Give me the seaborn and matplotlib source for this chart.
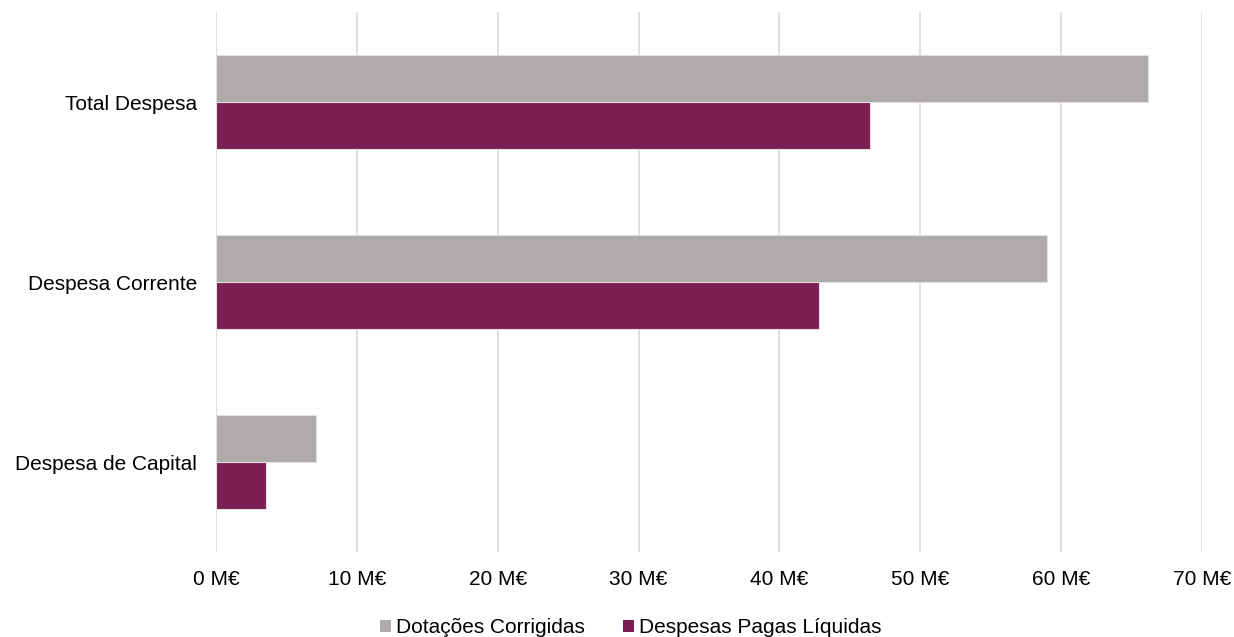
import matplotlib
matplotlib.use("Agg")
import matplotlib.pyplot as plt
import seaborn as sns
import pandas as pd
from matplotlib.patches import Patch

categories = ["Total Despesa", "Despesa Corrente", "Despesa de Capital"]
series = ["Dotações Corrigidas", "Despesas Pagas Líquidas"]
dotacoes = [66.2, 59.0, 7.1]
despesas = [46.4, 42.8, 3.55]
xticks = [0, 10, 20, 30, 40, 50, 60, 70]
xtick_labels = [f"{v} M€" for v in xticks]
colors = ["#AFABAB", "#7B1E52"]

df = pd.DataFrame({
    "categoria": categories * 2,
    "serie": [series[0]] * 3 + [series[1]] * 3,
    "valor": dotacoes + despesas,
})

sns.set_theme(style="white")
plt.rcParams["font.family"] = ["Liberation Sans", "DejaVu Sans"]

fig = plt.figure(figsize=(12.34, 6.37), dpi=100)
ax = fig.add_axes([0.175, 0.133, 0.799, 0.848])

sns.barplot(data=df, x="valor", y="categoria", hue="serie", order=categories,
            hue_order=series, palette=colors, saturation=1, orient="h",
            width=0.52, gap=0, edgecolor="#E0E0E0", linewidth=0.8, ax=ax,
            legend=False)

ax.set_xlim(0, 70)
ax.set_xticks(xticks)
ax.set_xticklabels(xtick_labels)
ax.set_xlabel("")
ax.set_ylabel("")
ax.grid(axis="x", color="#D9D9D9", linewidth=1.2)
ax.grid(axis="y", visible=False)
ax.set_axisbelow(True)
for s in ax.spines.values():
    s.set_visible(False)
ax.tick_params(axis="both", length=0, labelsize=15, colors="#000000")
ax.tick_params(axis="x", pad=12.5)
ax.tick_params(axis="y", pad=13.5)

handles = [Patch(facecolor=c, edgecolor="none") for c in colors]
leg = fig.legend(handles, series, loc="lower center", ncol=2, frameon=False,
                 fontsize=15, bbox_to_anchor=(0.511, -0.030), handlelength=0.55,
                 handleheight=0.55, handletextpad=0.2, columnspacing=1.85)
for t in leg.get_texts():
    t.set_color("#000000")

fig.savefig("out.png", dpi=100)
